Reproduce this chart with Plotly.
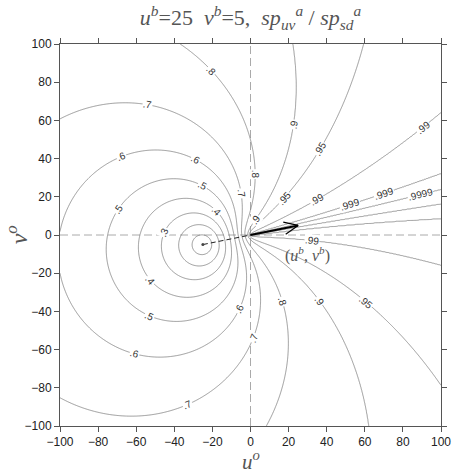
import numpy as np
import plotly.graph_objects as go

# background wind
ub = 25
vb = 5

# contour levels of sp_uv / sp_sd and how they are printed
levels = [.1, .2, .3, .4, .5, .6, .7, .8, .9, .95, .99, .999, .9999]
level_text = ['.1', '.2', '.3', '.4', '.5', '.6', '.7', '.8', '.9', '.95', '.99', '.999', '.9999']
axis_ticks = [-100, -80, -60, -40, -20, 0, 20, 40, 60, 80, 100]

# where the line labels go (level index, rough spot on the plot)
label_spots = [
    (7, -21, 86), (6, -54, 68), (5, -68, 41), (5, -29, 39), (4, -25, 26),
    (4, -69, 13), (3, -18, 12), (2, -45, 1), (6, -5, 22),
    (8, 22, 58), (9, 37, 45), (10, 91, 56), (7, 2, 32), (9, 18, 19),
    (10, 35, 18), (11, 52, 16), (11, 70, 22), (12, 89, 21), (8, 3, 8),
    (3, -53, -24), (4, -53, -43), (5, -61, -63), (6, -33, -89), (5, -5, -39),
    (10, 32, -3), (7, 16, -35), (8, 36, -35), (9, 60, -36), (6, 1.5, -54),
]


def ratio(uo, vo):
    # |b+o| / (|b|+|o|) : speed from u,v averaging over speed from sp,dir averaging
    return np.hypot(ub + uo, vb + vo) / (np.hypot(ub, vb) + np.hypot(uo, vo))


u = np.linspace(-100, 100, 501)
v = np.linspace(-100, 100, 501)
U, V = np.meshgrid(u, v)
Z = ratio(U, V)
# map the uneven levels onto 1..N so one contour trace can draw them all
Zi = np.interp(Z, [0] + levels + [1], np.arange(len(levels) + 2)).round(4)

fig = go.Figure()
fig.add_trace(go.Contour(
    x=u, y=v, z=Zi,
    contours=dict(start=1, end=len(levels), size=1, coloring='lines', showlabels=False),
    colorscale=[[0, '#808080'], [1, '#808080']],
    line=dict(width=0.8),
    showscale=False, hoverinfo='skip',
))

# background vector: dashed back to -b, solid arrow to b
fig.add_trace(go.Scatter(x=[-ub, 0], y=[-vb, 0], mode='lines',
                         line=dict(color='#222', width=1, dash='5px,3px'), hoverinfo='skip'))
fig.add_trace(go.Scatter(x=[0, ub], y=[0, vb], mode='lines',
                         line=dict(color='black', width=2), hoverinfo='skip'))
blen = np.hypot(ub, vb)
ex, ey = ub / blen, vb / blen
a = np.radians(24)
barb = 8
bx, by = [], []
for s in (1, -1):
    bx.append(ub + barb * (-ex * np.cos(a) + s * ey * np.sin(a)))
    by.append(vb + barb * (-ey * np.cos(a) - s * ex * np.sin(a)))
fig.add_trace(go.Scatter(x=[bx[0], ub, bx[1]], y=[by[0], vb, by[1]], mode='lines',
                         line=dict(color='black', width=1.2), hoverinfo='skip'))
fig.add_trace(go.Scatter(x=[-ub], y=[-vb], mode='markers',
                         marker=dict(color='#444', size=3), hoverinfo='skip'))


def snap(c, x, y):
    h = 1e-3
    for _ in range(40):
        f0 = ratio(x, y) - c
        gx = (ratio(x + h, y) - ratio(x - h, y)) / (2 * h)
        gy = (ratio(x, y + h) - ratio(x, y - h)) / (2 * h)
        g2 = gx * gx + gy * gy
        dx, dy = -f0 * gx / g2, -f0 * gy / g2
        d = np.hypot(dx, dy)
        if d > 2:
            dx, dy = dx * 2 / d, dy * 2 / d
        x, y = x + dx, y + dy
    ang = -np.degrees(np.arctan2(gx, -gy))
    while ang > 90:
        ang -= 180
    while ang <= -90:
        ang += 180
    return float(x), float(y), float(ang)


annotations = []
for k, x0, y0 in label_spots:
    x, y, ang = snap(levels[k], x0, y0)
    annotations.append(dict(x=x, y=y, text=level_text[k], showarrow=False, textangle=ang,
                            bgcolor='white', borderpad=0,
                            font=dict(family='Liberation Sans', size=10, color='#333')))

serif = dict(family='Liberation Serif', color='#555')
annotations.append(dict(x=ub + 5, y=-vb - 5, text='(<i>u</i><sup><i>b</i></sup>, <i>v</i><sup><i>b</i></sup>)',
                        showarrow=False, font=dict(size=16, **serif)))
# axis titles
annotations.append(dict(xref='paper', yref='paper', x=0.5, y=-0.09, yanchor='middle', borderpad=0,
                        text='<i>u</i><sup><i>o</i></sup>', showarrow=False, font=dict(size=21, **serif)))
annotations.append(dict(xref='paper', yref='paper', x=-0.112, y=0.5, xanchor='center', textangle=-90,
                        text='<i>v</i><sup><i>o</i></sup>', showarrow=False, font=dict(size=24, **serif)))

axis = dict(range=[-100, 100], tickvals=axis_ticks, showgrid=False, zeroline=False,
            showline=True, linecolor='#555', linewidth=1, mirror='ticks',
            ticks='outside', ticklen=5, tickcolor='#555', automargin=False,
            tickfont=dict(family='Liberation Sans', size=12, color='#222'))

fig.update_layout(
    width=452, height=476,
    margin=dict(l=60, r=11, t=44, b=50),
    plot_bgcolor='white', paper_bgcolor='white',
    showlegend=False,
    title=dict(text='<i>u</i><sup><i>b</i></sup>=25  <i>v</i><sup><i>b</i></sup>=5,  '
                    '<i>sp</i><sub><i>uv</i></sub><sup><i>a</i></sup> / <i>sp</i><sub><i>sd</i></sub><sup><i>a</i></sup>',
               x=0.5, xref='paper', y=0.963, yanchor='middle',
               font=dict(size=22, **serif)),
    xaxis=axis,
    yaxis=axis,
    annotations=annotations,
    shapes=[
        dict(type='line', xref='x', yref='paper', x0=0, x1=0, y0=0, y1=1, layer='below',
             line=dict(color='#aaa', width=1, dash='8px,4px')),
        dict(type='line', xref='paper', yref='y', x0=0, x1=1, y0=0, y1=0, layer='below',
             line=dict(color='#aaa', width=1, dash='8px,4px')),
    ],
)

# page margin off so the figure sits at the window's corner
fig.write_html("out.html", config={'displayModeBar': False},
               post_script="document.body.style.margin='0';")
